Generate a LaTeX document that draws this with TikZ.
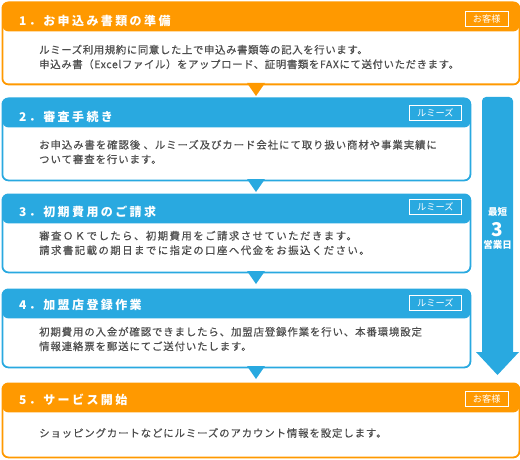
\documentclass[tikz,border=0pt]{standalone}
\usepackage{fontspec}
\setmainfont{Noto Sans CJK JP}
\definecolor{orng}{HTML}{FF9900}
\definecolor{blu}{HTML}{29A9E0}
\definecolor{txtg}{HTML}{4D4D4D}
\tikzset{
  stepbox/.style={draw=#1, fill=white, line width=1.8pt, rounded corners=6pt,
    anchor=north west, inner sep=0pt,
    path picture={\fill[#1] ([yshift=2pt]path picture bounding box.north west) rectangle ([yshift=-29pt]path picture bounding box.north east);}},
  headtext/.style={anchor=west, inner sep=0pt, text=white,
    font=\fontsize{12}{14}\selectfont\bfseries\addfontfeature{LetterSpace=20}},
  bodytext/.style={anchor=west, inner sep=0pt, align=left, text=txtg,
    font=\fontsize{10.4}{14.5}\selectfont\addfontfeature{LetterSpace=#1,FakeBold=0.4}},
  tagbox/.style={draw=white, line width=0.9pt, text=white, anchor=east,
    font=\fontsize{9.2}{10}\selectfont, minimum height=15pt, inner xsep=8pt, inner ysep=0pt},
  arrtext/.style={text=white, inner sep=0pt, font=\bfseries\fontsize{9.5}{10}\selectfont},
}
\begin{document}
\begin{tikzpicture}[x=1pt,y=-1pt]
\useasboundingbox (0,0) rectangle (520,460);
\fill[white] (0,0) rectangle (520,460);

% big arrow
\fill[blu, rounded corners=4pt] (482,97) rectangle (513,356);
\fill[blu] (476,352) -- (519,352) -- (497.5,375) -- cycle;
\node[arrtext] (a1) at (497.5,212) {最短};
\node[arrtext, font=\bfseries\fontsize{19}{19}\selectfont] (a2) at (497.5,229.5) {3};
\node[arrtext] (a3) at (497.5,245) {営業日};

% boxes
\node[stepbox=orng, minimum width=517pt, minimum height=82pt] (b1) at (1.5,1.5) {};
\node[stepbox=blu, minimum width=468pt, minimum height=82pt] (b2) at (1.5,97.5) {};
\node[stepbox=blu, minimum width=468pt, minimum height=78pt] (b3) at (1.5,193.5) {};
\node[stepbox=blu, minimum width=468pt, minimum height=78pt] (b4) at (1.5,288.5) {};
\node[stepbox=orng, minimum width=517pt, minimum height=74pt] (b5) at (1.5,382.5) {};

% pointers
\fill[orng] (247,83) -- (265,83) -- (256,96) -- cycle;
\fill[blu] (247,179) -- (265,179) -- (256,192) -- cycle;
\fill[blu] (247,271) -- (265,271) -- (256,284) -- cycle;
\fill[blu] (247,366) -- (265,366) -- (256,379) -- cycle;

% headers
\node[headtext] (h1) at (19,20.5) {1．お申込み書類の準備};
\node[headtext] (h2) at (19,116.5) {2．審査手続き};
\node[headtext] (h3) at (19,211.5) {3．初期費用のご請求};
\node[headtext] (h4) at (19,305) {4．加盟店登録作業};
\node[headtext] (h5) at (19,400) {5．サービス開始};

% tags
\node[tagbox] (t1) at (509,19) {お客様};
\node[tagbox] (t2) at (462,113) {ルミーズ};
\node[tagbox] (t3) at (462,207) {ルミーズ};
\node[tagbox] (t4) at (462,302.5) {ルミーズ};
\node[tagbox] (t5) at (509,399) {お客様};

% body texts
\node[bodytext=6] (x1) at (39,57) {ルミーズ利用規約に同意した上で申込み書類等の記入を行います。\\申込み書（Excelファイル）をアップロード、証明書類をFAXにて送付いただきます。};
\node[bodytext=9] (x2) at (39,152) {お申込み書を確認後 、ルミーズ及びカード会社にて取り扱い商材や事業実績に\\ついて審査を行います。};
\node[bodytext=14] (x3) at (39,243) {審査ＯＫでしたら、初期費用をご請求させていただきます。\\請求書記載の期日までに指定の口座へ代金をお振込ください。};
\node[bodytext=8.5] (x4) at (39,339) {初期費用の入金が確認できましたら、加盟店登録作業を行い、本番環境設定\\情報連絡票を郵送にてご送付いたします。};
\node[bodytext=8.5] (x5) at (39,433) {ショッピングカートなどにルミーズのアカウント情報を設定します。};
\end{tikzpicture}
\end{document}
